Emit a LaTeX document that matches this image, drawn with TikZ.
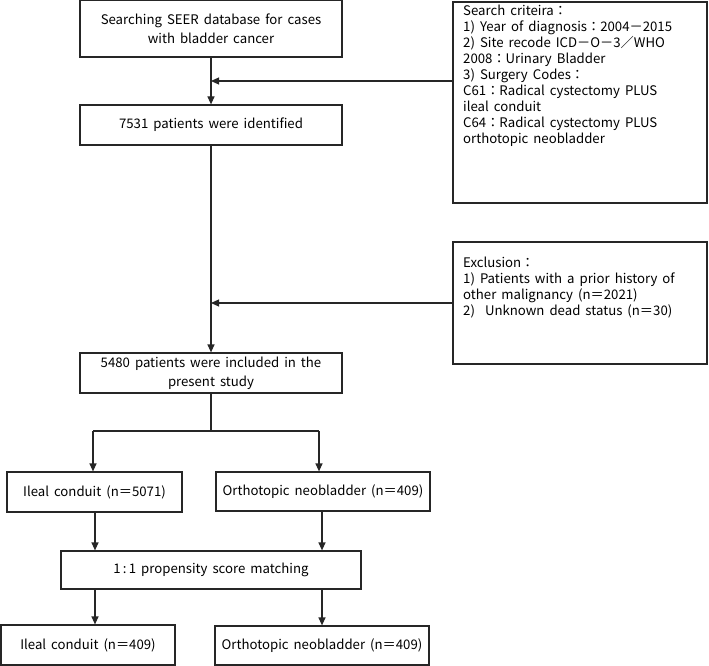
\documentclass[tikz,border=0pt]{standalone}
\usepackage{fontspec}
\setmainfont[WordSpace=1.7]{Noto Sans CJK KR}
\usetikzlibrary{arrows.meta}
\begin{document}
\begin{tikzpicture}[x=1pt,y=-1pt,
  txt/.style={font=\fontsize{13.2}{16}\selectfont},
  box/.style={draw=black!85,line width=1.2pt,inner sep=0pt,txt},
  arr/.style={draw=black!85,line width=1.2pt,-{Triangle[length=8pt,width=7pt]}},
  ln/.style={draw=black!85,line width=1.2pt}]
\useasboundingbox (0,0) rectangle (709,666);
\node[box,minimum width=262pt,minimum height=57pt,align=center,font=\fontsize{13.2}{19}\selectfont] (b1) at (211,28.5) {Searching SEER database for cases\\with bladder cancer};
\node[box,minimum width=262pt,minimum height=40pt] (b2) at (211,125) {7531 patients were identified};
\node[box,minimum width=254pt,minimum height=201pt] (crit) at (580,102.5) {};
\node[anchor=north west,inner sep=0pt,align=left,txt] (critt) at (463,5) {Search criteira：\\1) Year of diagnosis：2004－2015\\2) Site recode ICD－O－3／WHO\\2008：Urinary Bladder\\3) Surgery Codes：\\C61：Radical cystectomy PLUS\\ileal conduit\\C64：Radical cystectomy PLUS\\orthotopic neobladder};
\node[box,minimum width=254pt,minimum height=122pt] (excl) at (580,303) {};
\node[anchor=north west,inner sep=0pt,align=left,txt] (exclt) at (463,257) {Exclusion：\\1) Patients with a prior history of\\other malignancy (n＝2021)\\2) \ Unknown dead status (n＝30)};
\node[box,minimum width=262pt,minimum height=40pt,align=center,font=\fontsize{13.2}{19}\selectfont] (b3) at (211,373) {5480 patients were included in the\\present study};
\node[box,minimum width=175pt,minimum height=40pt] (il1) at (94.5,492) {Ileal conduit (n＝5071)};
\node[box,minimum width=214pt,minimum height=39pt] (or1) at (323,491.5) {Orthotopic neobladder (n＝409)};
\node[box,minimum width=300pt,minimum height=38pt] (psm) at (211,570) {1\,:\,1 propensity score matching};
\node[box,minimum width=174pt,minimum height=40pt] (il2) at (88,645) {Ileal conduit (n＝409)};
\node[box,minimum width=214pt,minimum height=39pt] (or2) at (322,645.5) {Orthotopic neobladder (n＝409)};
\coordinate (j1) at (211,81);
\coordinate (sp) at (211,431);
\coordinate (sl) at (93,431);
\coordinate (sr) at (319,431);
\coordinate (xl) at (95,0);
\coordinate (xr) at (322,0);
\draw[arr] (b1.south) -- (b2.north);
\draw[arr] (crit.west |- j1) -- (j1);
\draw[arr] (b2.south) -- (b3.north);
\draw[arr] (excl.west) -- (excl.west -| b2.south);
\draw[ln] (b3.south) -- (sp);
\draw[ln] (sl) -- (sr);
\draw[arr] (sl) -- (sl |- il1.north);
\draw[arr] (sr) -- (sr |- or1.north);
\draw[arr] (xl |- il1.south) -- (xl |- psm.north);
\draw[arr] (xr |- or1.south) -- (xr |- psm.north);
\draw[arr] (xl |- psm.south) -- (xl |- il2.north);
\draw[arr] (xr |- psm.south) -- (xr |- or2.north);
\end{tikzpicture}
\end{document}
